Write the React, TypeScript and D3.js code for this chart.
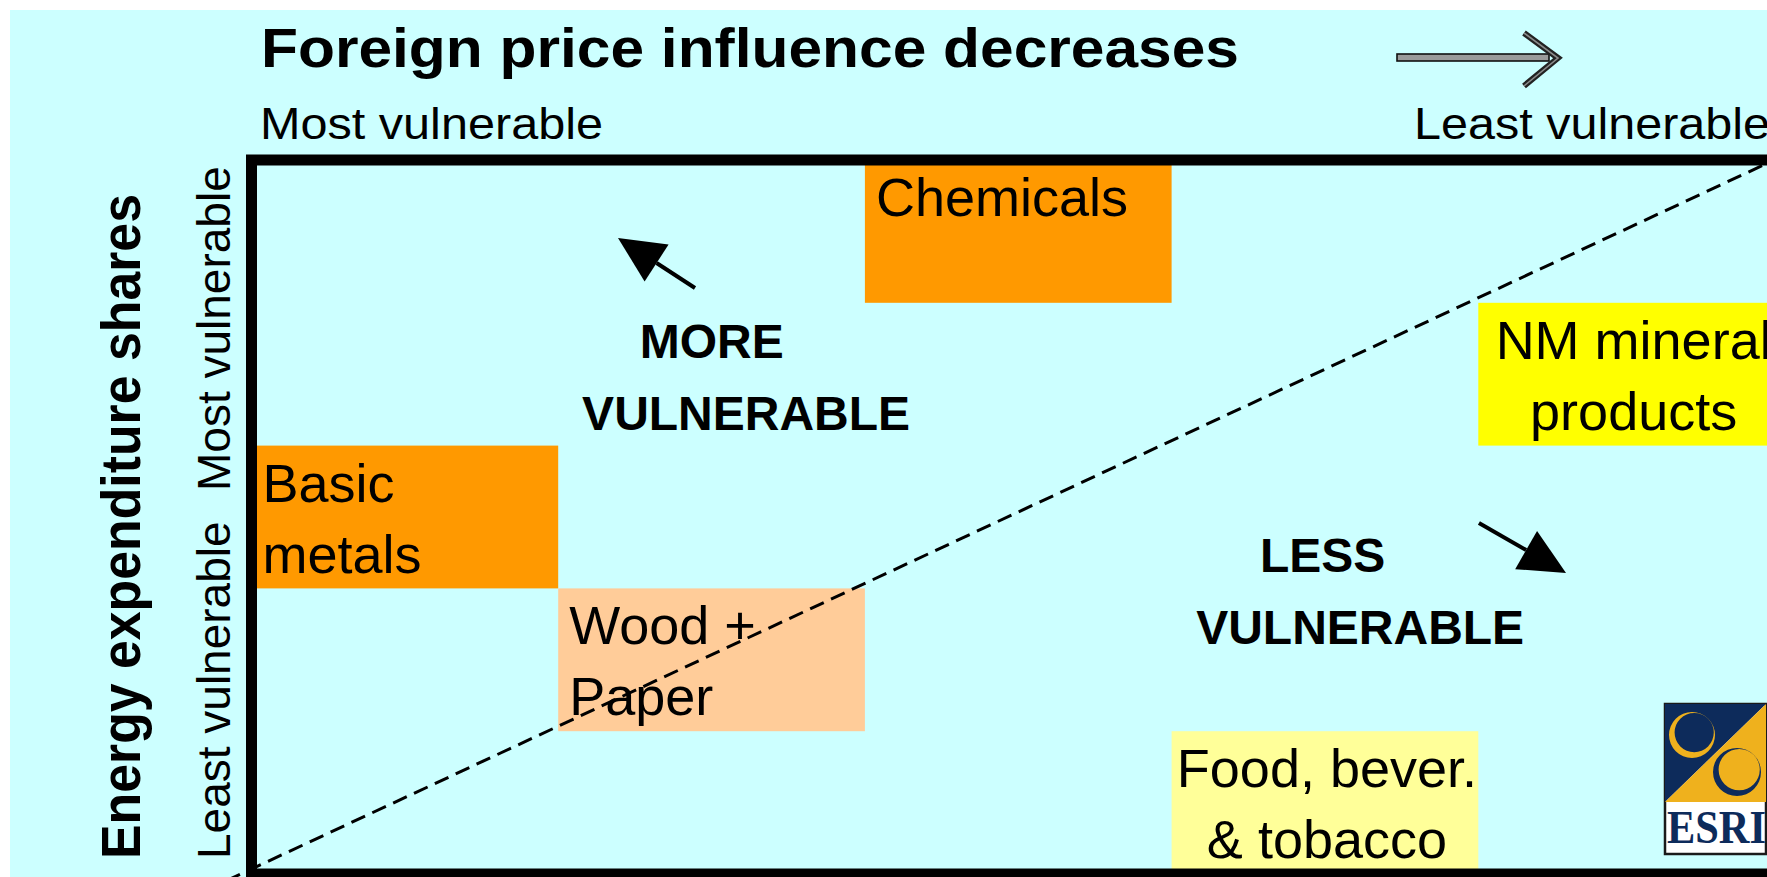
import React from "react";
import * as d3 from "d3";

// ---------- data ----------
const sectorNames = ["Chemicals", "Basic metals", "Wood + Paper", "NM mineral products", "Food, bever. & tobacco"];
const sectorLabelLines = [["Chemicals"], ["Basic", "metals"], ["Wood +", "Paper"], ["NM mineral", "products"], ["Food, bever.", "& tobacco"]];
// column band along "foreign price influence" (0 = most vulnerable ... 4 = least vulnerable)
const foreignInfluenceBand = [2, 0, 1, 4, 3];
// row band along "energy expenditure shares" (0 = least vulnerable ... 4 = most vulnerable)
const energyShareBand = [4, 2, 1, 3, 0];
const sectorGroup = ["high", "high", "medium", "low", "lowest"];

const titleText = "Foreign price influence decreases";
const xAxisEnds = ["Most vulnerable", "Least vulnerable"];
const yAxisTitle = "Energy expenditure shares";
const yAxisEnds = ["Least vulnerable", "Most vulnerable"];

const regionLabels = [["MORE", "VULNERABLE"], ["LESS", "VULNERABLE"]];
// anchor of each line (data units: [foreign band, energy band])
const regionLabelPos = [
  [[1.266, 3.613], [1.078, 3.109]],
  [[3.288, 2.115], [3.08, 1.611]],
];
const arrowTails: [number, number][] = [[1.446, 4.104], [4.002, 2.458]];
const arrowTips: [number, number][] = [[1.195, 4.454], [4.286, 2.108]];
const diagonal: [number, number][] = [[-0.15, -0.115], [5.1, 5.135]];

// ---------- styles ----------
const groupFill: Record<string, string> = {
  high: "#FF9900",
  medium: "#FFCC99",
  low: "#FFFF00",
  lowest: "#FFFF99",
};
const groupAlign: Record<string, string> = { high: "start", medium: "start", low: "middle", lowest: "middle" };
const SANS = "'Liberation Sans', Arial, Helvetica, sans-serif";
const SERIF = "'Liberation Serif', 'Times New Roman', serif";
const BG = "#CCFFFF";
const NAVY = "#0D2B5B";
const GOLD = "#EFB11D";

function arrowHead(tip: [number, number], tail: [number, number], len: number, half: number) {
  const dx = tip[0] - tail[0], dy = tip[1] - tail[1];
  const L = Math.hypot(dx, dy);
  const ux = dx / L, uy = dy / L;
  const bx = tip[0] - ux * len, by = tip[1] - uy * len;
  const px = -uy, py = ux;
  return {
    base: [bx, by],
    pts: `${tip[0]},${tip[1]} ${bx + px * half},${by + py * half} ${bx - px * half},${by - py * half}`,
  };
}

function crescent(cx: number, cy: number, r: number, ix: number, iy: number, ir: number) {
  const p = d3.path();
  p.moveTo(cx + r, cy);
  p.arc(cx, cy, r, 0, Math.PI * 2);
  p.closePath();
  p.moveTo(ix + ir, iy);
  p.arc(ix, iy, ir, 0, Math.PI * 2);
  p.closePath();
  return p.toString();
}

export default function App() {
  const x = d3.scaleLinear().domain([0, 5]).range([251.5, 1785]);
  const y = d3.scaleLinear().domain([0, 5]).range([874, 160]);
  const line = d3.line<[number, number]>().x((d) => x(d[0])).y((d) => y(d[1]));

  // logo geometry
  const lx0 = 1665, ly0 = 704, lx1 = 1766, ly1 = 854, lmid = 802;
  const navyTri = `${lx0},${ly0} ${lx1},${ly0} ${lx0},${lmid}`;
  const goldTri = `${lx1},${ly0} ${lx1},${lmid} ${lx0},${lmid}`;
  const ring1 = crescent(1692, 735, 23, 1694.2, 732.6, 19.6);
  const ring2 = crescent(1737, 772, 24, 1739.2, 769.6, 20.6);

  return (
    <svg
      width={1767}
      height={877}
      viewBox="0 0 1767 877"
      style={{ position: "absolute", left: 0, top: 0, display: "block" }}
      fontFamily={SANS}
    >
      <defs>
        <clipPath id="navyClip"><polygon points={navyTri} /></clipPath>
        <clipPath id="goldClip"><polygon points={goldTri} /></clipPath>
      </defs>
      <rect x={0} y={0} width={1767} height={877} fill="#FFFFFF" />
      <rect x={10} y={10} width={1757} height={867} fill={BG} />

      {/* sector boxes */}
      {sectorNames.map((name, i) => (
        <rect
          key={name}
          x={x(foreignInfluenceBand[i])}
          y={y(energyShareBand[i] + 1)}
          width={x(foreignInfluenceBand[i] + 1) - x(foreignInfluenceBand[i])}
          height={y(energyShareBand[i]) - y(energyShareBand[i] + 1)}
          fill={groupFill[sectorGroup[i]]}
        />
      ))}
      {sectorNames.map((name, i) => {
        const align = groupAlign[sectorGroup[i]];
        const tx = align === "start" ? x(foreignInfluenceBand[i]) + 11 : x(foreignInfluenceBand[i] + 0.5) + 2;
        const top = y(energyShareBand[i] + 1);
        return (
          <text key={name + "-t"} fontSize={54} fill="#000" textAnchor={align}>
            {sectorLabelLines[i].map((ln, j) => (
              <tspan key={j} x={tx} y={top + 56 + j * 71}>{ln}</tspan>
            ))}
          </text>
        );
      })}

      {/* diagonal dashed line */}
      <path d={line(diagonal) || ""} stroke="#000" strokeWidth={3} strokeDasharray="15 8" fill="none" />

      {/* region arrows */}
      {arrowTails.map((t, i) => {
        const tail: [number, number] = [x(t[0]), y(t[1])];
        const tip: [number, number] = [x(arrowTips[i][0]), y(arrowTips[i][1])];
        const h = arrowHead(tip, tail, 46, 22);
        return (
          <g key={"arr" + i}>
            <line x1={tail[0]} y1={tail[1]} x2={h.base[0]} y2={h.base[1]} stroke="#000" strokeWidth={4} />
            <polygon points={h.pts} fill="#000" />
          </g>
        );
      })}

      {/* region labels */}
      {regionLabels.map((lines, i) =>
        lines.map((ln, j) => (
          <text
            key={`rl${i}${j}`}
            x={x(regionLabelPos[i][j][0])}
            y={y(regionLabelPos[i][j][1])}
            fontSize={48}
            fontWeight="bold"
            fill="#000"
          >
            {ln}
          </text>
        ))
      )}

      {/* frame */}
      <rect x={x(0)} y={y(5)} width={x(5) - x(0)} height={y(0) - y(5)} fill="none" stroke="#000" strokeWidth={11} />

      {/* ESRI logo */}
      <g>
        <rect x={lx0} y={ly0} width={lx1 - lx0} height={ly1 - ly0} fill="#FFFFFF" stroke="#1a1a1a" strokeWidth={2.5} />
        <polygon points={navyTri} fill={NAVY} />
        <polygon points={goldTri} fill={GOLD} />
        <g clipPath="url(#navyClip)">
          <path d={ring1} fill={GOLD} fillRule="evenodd" />
          <path d={ring2} fill={GOLD} fillRule="evenodd" />
        </g>
        <g clipPath="url(#goldClip)">
          <path d={ring1} fill={NAVY} fillRule="evenodd" />
          <path d={ring2} fill={NAVY} fillRule="evenodd" />
        </g>
        <text x={lx0 + 2} y={843} fontFamily={SERIF} fontWeight="bold" fontSize={46} fill={NAVY} textLength={99} lengthAdjust="spacingAndGlyphs">
          ESRI
        </text>
      </g>

      {/* title and horizontal axis labels */}
      <text x={261} y={67} fontSize={55} fontWeight="bold" fill="#000" textLength={978} lengthAdjust="spacingAndGlyphs">
        {titleText}
      </text>
      <g>
        <rect x={1397} y={54} width={152} height={7} fill="#9a9a9a" stroke="#111" strokeWidth={1.6} />
        <polyline points="1524,33 1558,58 1524,86" fill="none" stroke="#222" strokeWidth={6} strokeLinejoin="miter" />
        <polyline points="1524,33 1558,58 1524,86" fill="none" stroke="#8a8a8a" strokeWidth={1.6} />
      </g>
      <text x={260} y={139} fontSize={44} fill="#000" textLength={343} lengthAdjust="spacingAndGlyphs">
        {xAxisEnds[0]}
      </text>
      <text x={1414} y={139} fontSize={44} fill="#000" textLength={356} lengthAdjust="spacingAndGlyphs">
        {xAxisEnds[1]}
      </text>

      {/* vertical axis labels */}
      <text transform="translate(140,859) rotate(-90)" fontSize={55} fontWeight="bold" fill="#000" textLength={665} lengthAdjust="spacingAndGlyphs">
        {yAxisTitle}
      </text>
      <text transform="translate(230,859) rotate(-90)" fontSize={46} fill="#000">
        {yAxisEnds[0]}
      </text>
      <text transform="translate(230,491) rotate(-90)" fontSize={46} fill="#000">
        {yAxisEnds[1]}
      </text>
    </svg>
  );
}
